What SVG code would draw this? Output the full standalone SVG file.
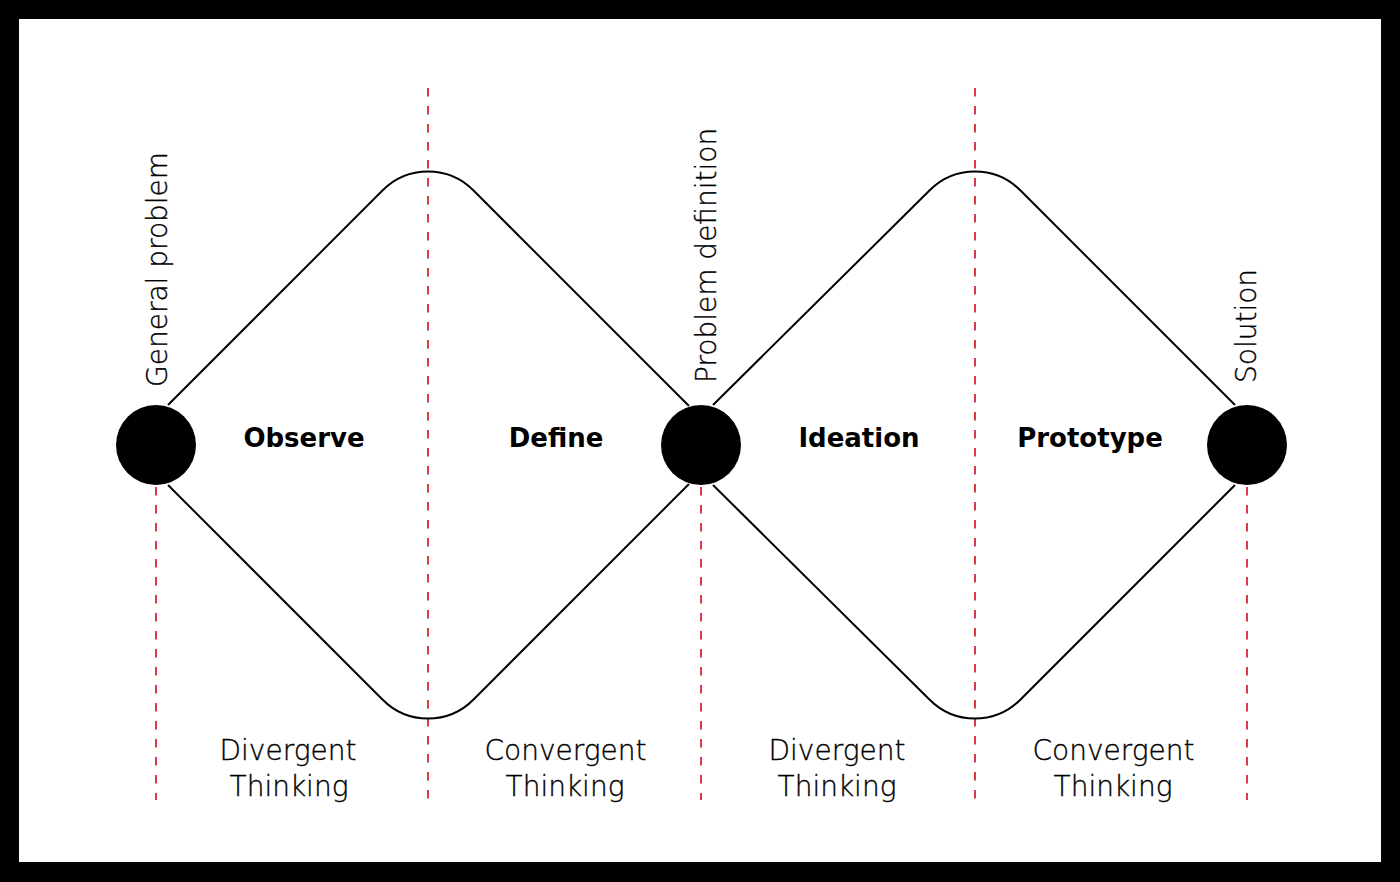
<svg xmlns="http://www.w3.org/2000/svg" width="1400" height="882" viewBox="0 0 1400 882">
<style>
.guide{stroke:#dc3a44;stroke-width:2;stroke-dasharray:8.5 9.5;fill:none}
.edge{stroke:#000;stroke-width:2;fill:none}
.node{fill:#000}
.phase{font-family:"DejaVu Sans","Liberation Sans",sans-serif;font-weight:bold;font-size:26px;fill:#000;text-anchor:middle}
.thin{font-family:"DejaVu Sans","Liberation Sans",sans-serif;font-weight:200;font-size:28px;fill:#000;stroke:#000;stroke-width:0.35}
.mode{text-anchor:middle}
</style>
<rect x="0" y="0" width="1400" height="882" fill="#000"/>
<rect x="19" y="19" width="1362" height="843" fill="#fff"/>
<g id="guides">
<line class="guide" x1="428" y1="88" x2="428" y2="805"/>
<line class="guide" x1="975" y1="88" x2="975" y2="805"/>
<line class="guide" x1="156" y1="487" x2="156" y2="800"/>
<line class="guide" x1="701" y1="487" x2="701" y2="800"/>
<line class="guide" x1="1247" y1="487" x2="1247" y2="800"/>
</g>
<g id="connectors">
<path class="edge" d="M168,405 L382.7,190.3 A64,64 0 0 1 473.3,190.3 L689,406"/>
<path class="edge" d="M168,485 L382.7,699.7 A64,64 0 0 0 473.3,699.7 L689,484"/>
<path class="edge" d="M713,405 L929.7,190.3 A64,64 0 0 1 1020.3,190.3 L1235,405"/>
<path class="edge" d="M713,485 L929.7,699.7 A64,64 0 0 0 1020.3,699.7 L1235,485"/>
</g>
<g id="node-general-problem">
<circle class="node" cx="156" cy="445" r="40"/>
<text class="thin" transform="translate(167,387) rotate(-90)">General problem</text>
</g>
<g id="node-problem-definition">
<circle class="node" cx="701" cy="445" r="40"/>
<text class="thin" transform="translate(716,383) rotate(-90)">Problem definition</text>
</g>
<g id="node-solution">
<circle class="node" cx="1247" cy="445" r="40"/>
<text class="thin" transform="translate(1256,383) rotate(-90)">Solution</text>
</g>
<g id="phase-labels">
<text class="phase" x="304" y="447">Observe</text>
<text class="phase" x="556" y="447">Define</text>
<text class="phase" x="859" y="447">Ideation</text>
<text class="phase" x="1090" y="447">Prototype</text>
</g>
<g id="mode-labels">
<text class="thin mode" x="288" y="760">Divergent</text>
<text class="thin mode" x="289" y="796">Thinking</text>
<text class="thin mode" x="565.5" y="760">Convergent</text>
<text class="thin mode" x="565" y="796">Thinking</text>
<text class="thin mode" x="837" y="760">Divergent</text>
<text class="thin mode" x="837" y="796">Thinking</text>
<text class="thin mode" x="1113.5" y="760">Convergent</text>
<text class="thin mode" x="1113" y="796">Thinking</text>
</g>
</svg>
